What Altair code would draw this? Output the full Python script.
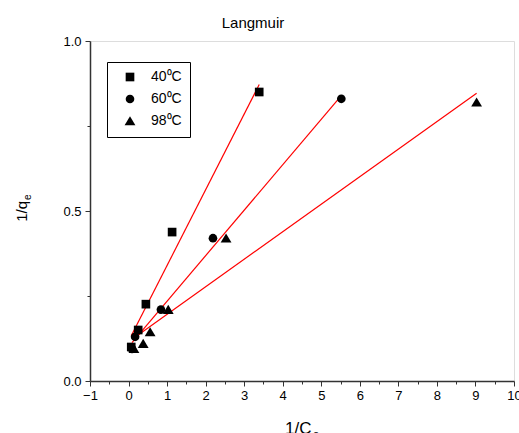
import altair as alt
import pandas as pd

temps = ["40⁰C", "60⁰C", "98⁰C"]
shapes = ["square", "circle", "M0,-1.1L1.25,1L-1.25,1Z"]

x40 = [0.07, 0.25, 0.45, 1.13, 3.39]
y40 = [0.100, 0.150, 0.226, 0.438, 0.850]
x60 = [0.09, 0.17, 0.84, 2.19, 5.52]
y60 = [0.094, 0.130, 0.210, 0.420, 0.830]
x98 = [0.14, 0.38, 0.56, 1.03, 2.53, 9.03]
y98 = [0.095, 0.110, 0.144, 0.210, 0.420, 0.820]

rows = []
for t, xs, ys in zip(temps, [x40, x60, x98], [y40, y60, y98]):
    for a, b in zip(xs, ys):
        rows.append({"T": t, "x": a, "y": b})
df = pd.DataFrame(rows)

FONT = "Liberation Sans"
xscale = alt.Scale(domain=[-1, 10], nice=False, zero=False)
yscale = alt.Scale(domain=[0, 1], nice=False, zero=False)

xticks = [i / 2 for i in range(-2, 21)]
yticks = [0, 0.25, 0.5, 0.75, 1.0]

xaxis = alt.Axis(
    values=xticks,
    labelExpr="datum.value % 1 === 0 ? format(datum.value, 'd') : ''",
    tickSize={"condition": {"test": "datum.value % 1 === 0", "value": 5}, "value": 3},
    title=None, grid=False, labelFont=FONT, labelFontSize=13, labelColor="black",
    domainColor="#333", domainWidth=1.5, tickColor="#333", tickWidth=1,
    labelPadding=3, labelFlush=False, labelOverlap=False, labelBound=False,
)
yaxis = alt.Axis(
    values=yticks,
    labelExpr="datum.value % 0.5 === 0 ? format(datum.value, '.1f') : ''",
    tickSize={"condition": {"test": "datum.value % 0.5 === 0", "value": 5}, "value": 3},
    title=None, grid=False, labelFont=FONT, labelFontSize=13, labelColor="black",
    domainColor="#333", domainWidth=1.5, tickColor="#333", tickWidth=1,
    labelPadding=4, labelFlush=False, labelOverlap=False,
)

legend_cfg = dict(
    title=None, orient="none", legendX=17, legendY=21,
    strokeColor="black", fillColor="white", padding=8,
    symbolOffset=8, symbolFillColor="black", symbolSize=75,
    symbolStrokeColor="black", labelFont=FONT, labelFontSize=14,
    labelColor="black", labelOffset=14, rowPadding=6,
)

base = alt.Chart(df)

points = base.mark_point(filled=True, opacity=1, color="black", size=75).encode(
    x=alt.X("x:Q", scale=xscale, axis=xaxis),
    y=alt.Y("y:Q", scale=yscale, axis=yaxis),
    shape=alt.Shape("T:N", scale=alt.Scale(domain=temps, range=shapes),
                    legend=alt.Legend(**legend_cfg)),
)

lines = base.transform_regression("x", "y", groupby=["T"]).mark_line(
    color="red", strokeWidth=1.2
).encode(
    x=alt.X("x:Q", scale=xscale, axis=xaxis),
    y=alt.Y("y:Q", scale=yscale, axis=yaxis),
    detail="T:N",
)

one = alt.Data(values=[{"a": 1}])
title = alt.Chart(one).mark_text(text="Langmuir", font=FONT, fontSize=15, align="center",
                                 baseline="alphabetic", color="black").encode(
    x=alt.value(163), y=alt.value(-13))
xt1 = alt.Chart(one).mark_text(text="1/C", font=FONT, fontSize=17, align="left",
                               baseline="alphabetic", color="black").encode(
    x=alt.value(195), y=alt.value(393))
xt2 = alt.Chart(one).mark_text(text="e", font=FONT, fontSize=11, align="left",
                               baseline="alphabetic", color="black").encode(
    x=alt.value(223), y=alt.value(397))
yt1 = alt.Chart(one).mark_text(text="1/q", font=FONT, fontSize=15, align="right",
                               baseline="alphabetic", angle=270, color="black").encode(
    x=alt.value(-63), y=alt.value(160))
yt2 = alt.Chart(one).mark_text(text="e", font=FONT, fontSize=10, align="left",
                               baseline="alphabetic", angle=270, color="black").encode(
    x=alt.value(-59), y=alt.value(159))

chart = alt.layer(lines, points, title, xt1, xt2, yt1, yt2).properties(
    width=424, height=340,
    autosize=alt.AutoSizeParams(type="none"),
    padding={"left": 90, "top": 41, "right": 5, "bottom": 52},
).configure_view(stroke="black", strokeWidth=1).configure(background="white")

chart.save("out.html", embed_options={"renderer": "svg", "actions": False})
